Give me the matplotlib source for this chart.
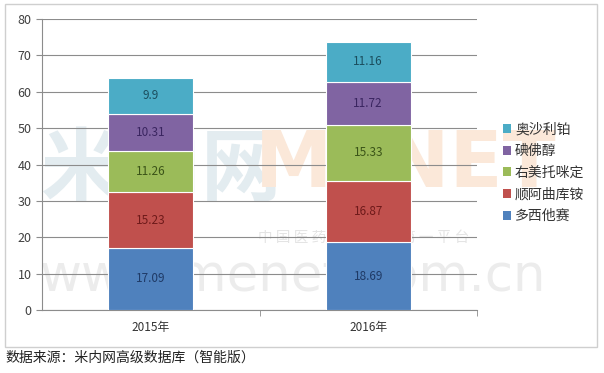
import matplotlib
matplotlib.use("Agg")
import matplotlib.pyplot as plt
from matplotlib.patches import Rectangle, Patch

plt.rcParams['font.family'] = ['Noto Sans CJK SC', 'DejaVu Sans']

categories = ["2015年", "2016年"]
series_names = ["多西他赛", "顺阿曲库铵", "右美托咪定", "碘佛醇", "奥沙利铂"]
values = {
    "多西他赛": [17.09, 18.69],
    "顺阿曲库铵": [15.23, 16.87],
    "右美托咪定": [11.26, 15.33],
    "碘佛醇": [10.31, 11.72],
    "奥沙利铂": [9.9, 11.16],
}
yticks = [0, 10, 20, 30, 40, 50, 60, 70, 80]
source_text = "数据来源：米内网高级数据库（智能版）"

colors = ["#4F81BD", "#C0504D", "#9BBB59", "#8064A2", "#4BACC6"]
label_colors = ["#1F3A66", "#6E1A1A", "#3B5418", "#3A2560", "#1B4E5E"]

fig = plt.figure(figsize=(6.04, 3.73), dpi=100)

# outer frame
fig.patches.append(Rectangle((5/604, 1-347/373), 592/604, 343/373,
                             transform=fig.transFigure, fill=False,
                             edgecolor="#CFCFCF", linewidth=1.0))

# watermark (faint, behind the chart)
wm = dict(va="center", ha="left", zorder=-5)
fig.text(40/604, 1-172/373, "米内网", fontsize=58, color="#E3ECF0",
         fontweight="bold", **wm)
fig.text(255/604, 1-165/373, "MENET", fontsize=56, color="#FBE8D9",
         fontweight="bold", family=["DejaVu Sans"], **wm)
fig.text(258/604, 1-238/373, "中 国 医 药 健 康 信 息 第 一 平 台", fontsize=10.5,
         color="#E4E4E4", **wm)
fig.text(40/604, 1-277/373, "www.menet.com.cn", fontsize=37,
         color="#ECECEC", family=["DejaVu Sans"], **wm)

ax = fig.add_axes([42/604, 1-310/373, (477-42)/604, (310-19)/373])
ax.patch.set_alpha(0)

x = list(range(len(categories)))
bottoms = [0.0] * len(categories)
for i, name in enumerate(series_names):
    vals = values[name]
    ax.bar(x, vals, width=0.39, bottom=bottoms, color=colors[i],
           edgecolor="white", linewidth=0.8, zorder=3, label=name)
    for j, v in enumerate(vals):
        ax.text(x[j], bottoms[j] + v / 2, f"{v:g}", ha="center", va="center",
                fontsize=8.5, color=label_colors[i], zorder=4)
    bottoms = [b + v for b, v in zip(bottoms, vals)]

ax.set_xlim(-0.5, 1.5)
ax.set_ylim(0, 80)
ax.set_yticks(yticks)
ax.yaxis.grid(True, color="#8C8C8C", linewidth=0.8, zorder=0)
ax.set_axisbelow(True)
ax.tick_params(axis="y", labelsize=9, colors="#404040", length=4, color="#8C8C8C")
ax.set_xticks(x)
ax.set_xticklabels(categories, fontsize=8.5, color="#333333")
ax.tick_params(axis="x", length=0, pad=8)
ax.set_xticks([0.5, 1.5], minor=True)
ax.tick_params(axis="x", which="minor", length=4, color="#8C8C8C")
for s in ["top", "right"]:
    ax.spines[s].set_visible(False)
ax.spines["left"].set_color("#8C8C8C")
ax.spines["bottom"].set_color("#8C8C8C")

handles = [Patch(facecolor=colors[i], edgecolor="none") for i in range(len(series_names))]
leg = fig.legend(handles[::-1], series_names[::-1], loc="upper left",
                 bbox_to_anchor=(490/604, 1-110/373), frameon=False,
                 fontsize=10, handlelength=0.6, handleheight=0.6,
                 handletextpad=0.3, labelspacing=0.55)
for t in leg.get_texts():
    t.set_color("#333333")

fig.text(5/604, 1-358/373, source_text, fontsize=10, color="#222222",
         va="center", ha="left")

fig.savefig("out.png", dpi=100)
